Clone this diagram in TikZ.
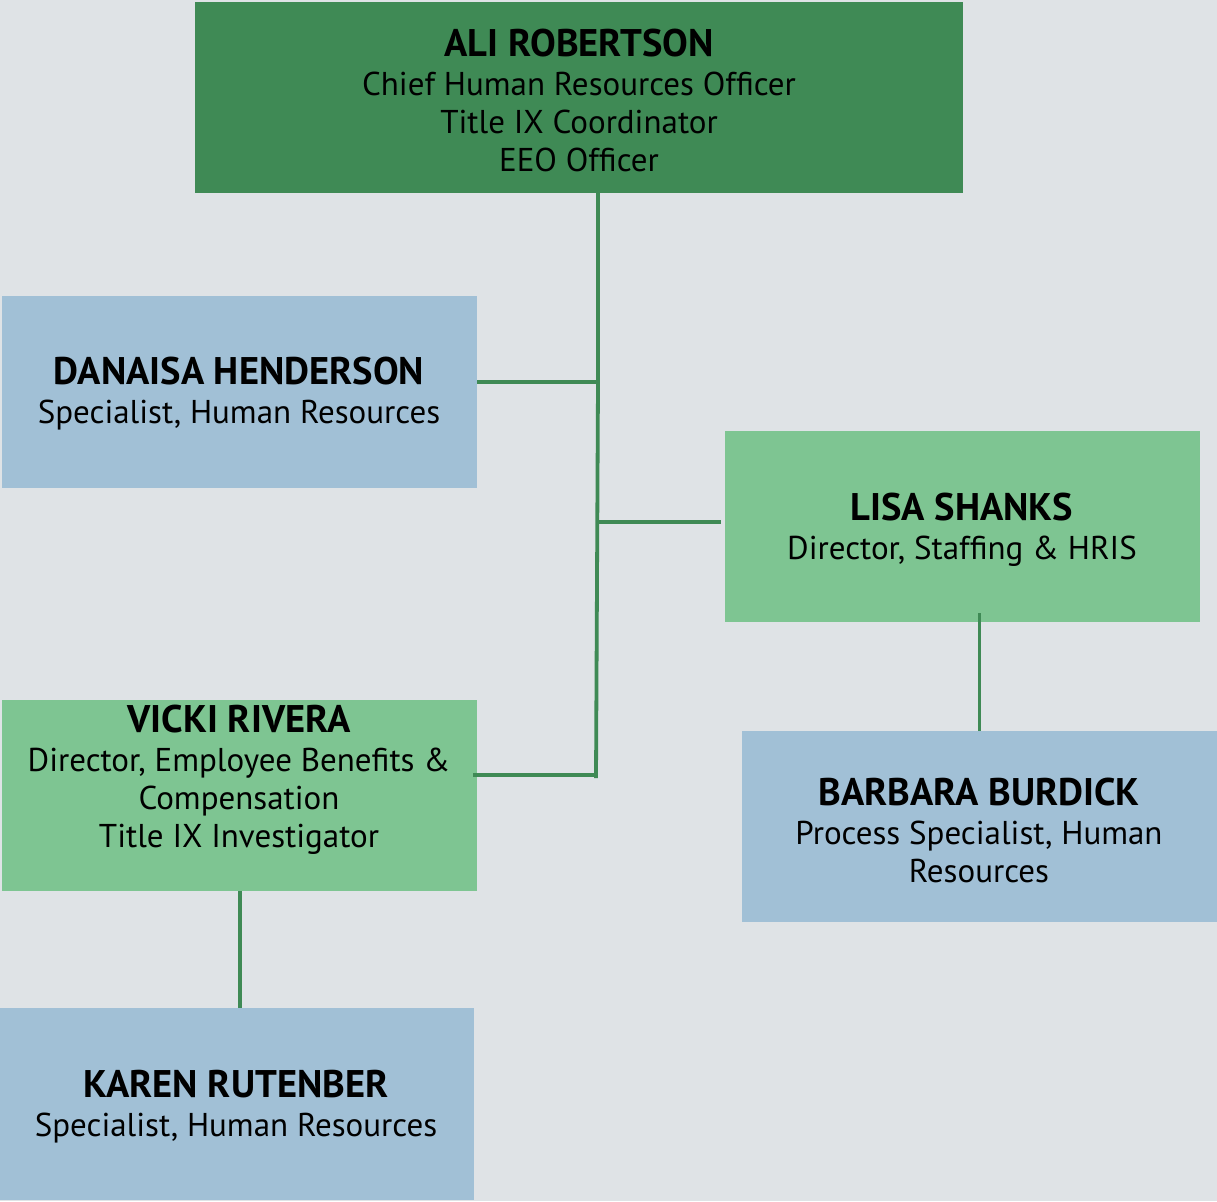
\documentclass[tikz,border=0pt]{standalone}
\usepackage{fontspec}
\setmainfont{PT Sans}
\definecolor{bg}{HTML}{DFE3E6}
\definecolor{dkgreen}{HTML}{3F8A55}
\definecolor{ltgreen}{HTML}{7EC592}
\definecolor{ltblue}{HTML}{A1C0D6}
\newcommand{\nmfont}{\fontsize{38.5}{41}\selectfont\bfseries}
\begin{document}
\begin{tikzpicture}[x=1pt,y=-1pt,
  card/.style={anchor=north west,inner sep=0pt,outer sep=0pt},
  txt/.style={align=center,inner sep=0pt,font=\fontsize{33}{38}\selectfont},
  conn/.style={draw=dkgreen,line width=3.8pt}]
\fill[bg] (0,0) rectangle (1217,1201);
\useasboundingbox (0,0) rectangle (1217,1201);
% boxes
\node[card,fill=dkgreen,minimum width=768pt,minimum height=191pt] (ali) at (195,2) {};
\node[card,fill=ltblue,minimum width=475pt,minimum height=192pt] (dan) at (2,296) {};
\node[card,fill=ltgreen,minimum width=475pt,minimum height=191pt] (lisa) at (725,431) {};
\node[card,fill=ltgreen,minimum width=475pt,minimum height=191pt] (vicki) at (2,700) {};
\node[card,fill=ltblue,minimum width=475pt,minimum height=191pt] (barb) at (742,731) {};
\node[card,fill=ltblue,minimum width=474pt,minimum height=192pt] (karen) at (0,1008) {};
% texts
\node[txt] (alit) at (579,100) {{\nmfont ALI ROBERTSON}\\[1pt]Chief Human Resources Officer\\Title IX Coordinator\\EEO Officer};
\node[txt] (dant) at (239,394) {{\nmfont DANAISA HENDERSON}\\[1pt]Specialist, Human Resources};
\node[txt] (lisat) at (962,530) {{\nmfont LISA SHANKS}\\[1pt]Director, Staffing \& HRIS};
\node[txt] (vickit) at (239,780) {{\nmfont VICKI RIVERA}\\[1pt]Director, Employee Benefits \&\\Compensation\\Title IX Investigator};
\node[txt] (barbt) at (979,830) {{\nmfont BARBARA BURDICK}\\[1pt]Process Specialist, Human\\Resources};
\node[txt] (karent) at (236,1107) {{\nmfont KAREN RUTENBER}\\[1pt]Specialist, Human Resources};
% connectors
\coordinate (j1) at (598,382);
\coordinate (j2) at (597,522);
\coordinate (j3) at (596,778);
\draw[conn] (ali.south -| j1) -- (j1) -- (j3);
\draw[conn] (dan.east |- j1) -- (j1);
\draw[conn] (j2) -- ([xshift=-4pt]lisa.west |- j2);
\draw[conn] ([xshift=-4pt]vicki.east |- 775,775) -- (j3 |- 775,775);
\draw[conn] ([yshift=9pt]lisa.south -| barb.north) -- (barb.north);
\draw[conn] (vicki.south -| 240,0) -- (karen.north -| 240,0);
\end{tikzpicture}
\end{document}
